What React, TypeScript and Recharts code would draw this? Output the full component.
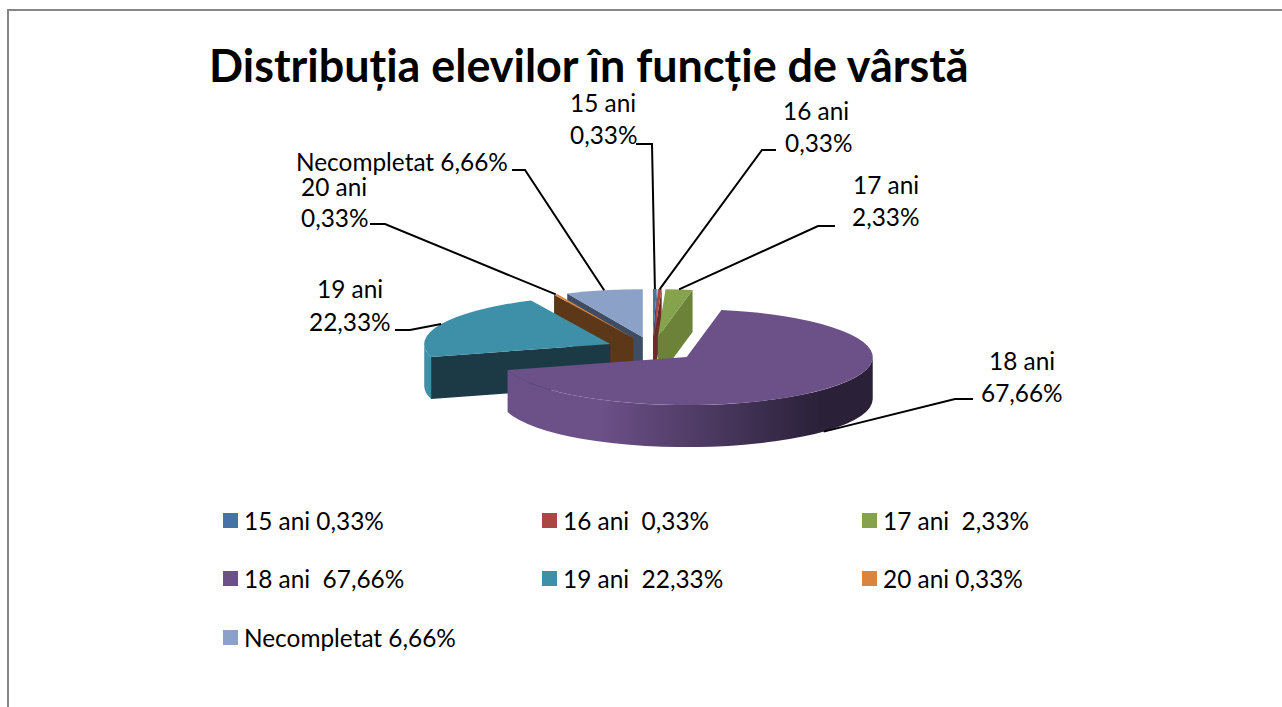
import * as React from 'react';
import { Legend, Pie, PieChart } from 'recharts';

const CATEGORIES = ['15 ani', '16 ani', '17 ani', '18 ani', '19 ani', '20 ani', 'Necompletat'];
const VALUES = [0.33, 0.33, 2.33, 67.66, 22.33, 0.33, 6.66];
const LEGEND_LABELS = [
  '15 ani 0,33%',
  '16 ani  0,33%',
  '17 ani  2,33%',
  '18 ani  67,66%',
  '19 ani  22,33%',
  '20 ani 0,33%',
  'Necompletat 6,66%',
];
const TOP_COLORS = ['#4572a7', '#aa4643', '#85a24c', '#6c5088', '#3e90a8', '#db843d', '#8ba1c7'];
const SIDE_COLORS = ['#2a4565', '#6b2b29', '#6c8238', '#2a2139', '#1b3a46', '#5c3718', '#3e4d63'];

// back to front, the big slice has to sit on top of the others
const DRAW_ORDER = [6, 5, 4, 0, 1, 2, 3];

const CHART_WIDTH = 1282;
const CHART_HEIGHT = 707;
const PIE_CX = 652.5;
const PIE_CY = 349;
const PIE_RX = 186;
const TILT = 0.258;
const DEPTH = 42;
const EXPLODE = 46.5;
const FONT = 'Lato, sans-serif';
const LABEL_SIZE = 24.4;

// text anchors for the data labels, then the elbow of each leader line
const LABEL_LAYOUT = [
  { lines: [[570, 102], [570, 134]], elbow: [[636, 144], [652, 144]] },
  { lines: [[783, 110], [785, 142]], elbow: [[776, 150], [762, 150]] },
  { lines: [[853, 184], [852, 216]], elbow: [[835, 226], [818, 226]] },
  { lines: [[989, 360], [981, 392]], elbow: [[973, 399], [955, 399]] },
  { lines: [[317, 288], [309, 321]], elbow: [[395, 330], [410, 330]] },
  { lines: [[301, 186], [301, 217]], elbow: [[370, 224], [385, 224]] },
  { lines: [[296, 161]], elbow: [[512, 170], [525, 170]] },
];

const LEGEND_COLUMNS = [223, 542, 862];
const LEGEND_ROWS = [513, 571, 630];

const pieData = CATEGORIES.map((name, i) => ({
  name: LEGEND_LABELS[i],
  age: name,
  value: VALUES[i],
  fill: TOP_COLORS[i],
}));

const percentText = (v: number) => v.toFixed(2).replace('.', ',') + '%';
const toRad = (deg: number) => (deg * Math.PI) / 180;

// point on the squashed ellipse, clock = degrees clockwise from 12 o'clock
const onEllipse = (ox: number, oy: number, clock: number, r = PIE_RX) => [
  ox + r * Math.sin(toRad(clock)),
  oy - r * TILT * Math.cos(toRad(clock)),
];

const explodedApex = (clock: number) => onEllipse(PIE_CX, PIE_CY, clock, EXPLODE);

const arcTo = (p: number[], large: boolean, sweep: boolean) =>
  `A ${PIE_RX} ${PIE_RX * TILT} 0 ${large ? 1 : 0} ${sweep ? 1 : 0} ${p[0]} ${p[1]}`;

const SliceShape = (props: any, index: number, layer: number) => {
  if (index !== layer) return <g />;
  const from = 90 - props.startAngle;
  const to = 90 - props.endAngle;
  const [ax, ay] = explodedApex(90 - props.midAngle);
  const p0 = onEllipse(ax, ay, from);
  const p1 = onEllipse(ax, ay, to);
  const top = `M ${ax} ${ay} L ${p0[0]} ${p0[1]} ${arcTo(p1, to - from > 180, true)} Z`;

  const side = SIDE_COLORS[index];
  const gradId = `rim-${index}`;
  const cut = (p: number[]) =>
    `M ${ax} ${ay} L ${p[0]} ${p[1]} L ${p[0]} ${p[1] + DEPTH} L ${ax} ${ay + DEPTH} Z`;

  const rimFrom = Math.max(from, 90);
  const rimTo = Math.min(to, 270);
  let rim = '';
  if (rimTo > rimFrom) {
    const a = onEllipse(ax, ay, rimFrom);
    const b = onEllipse(ax, ay, rimTo);
    const big = rimTo - rimFrom > 180;
    rim = `M ${a[0]} ${a[1]} ${arcTo(b, big, true)} L ${b[0]} ${b[1] + DEPTH} ${arcTo(
      [a[0], a[1] + DEPTH],
      big,
      false,
    )} Z`;
  }

  return (
    <g>
      <defs>
        <linearGradient
          id={gradId}
          gradientUnits="userSpaceOnUse"
          x1={ax - PIE_RX}
          x2={ax + PIE_RX}
          y1={0}
          y2={0}
        >
          <stop offset="27%" stopColor={props.fill} />
          <stop offset="86%" stopColor={side} />
        </linearGradient>
      </defs>
      {Math.sin(toRad(from)) < 0 && <path d={cut(p0)} fill={side} />}
      {Math.sin(toRad(to)) > 0 && <path d={cut(p1)} fill={side} />}
      {rim && <path d={rim} fill={`url(#${gradId})`} />}
      <path d={top} fill={props.fill} />
    </g>
  );
};

const renderLeader = (props: any) => {
  const clock = 90 - props.midAngle;
  const [ax, ay] = explodedApex(clock);
  const tip = onEllipse(ax, ay, clock);
  const tipY = Math.cos(toRad(clock)) < 0 ? tip[1] + DEPTH : tip[1];
  const [a, b] = LABEL_LAYOUT[props.index].elbow;
  return (
    <polyline
      key={props.index}
      points={`${a[0]},${a[1]} ${b[0]},${b[1]} ${tip[0]},${tipY}`}
      fill="none"
      stroke="#000"
      strokeWidth={2}
    />
  );
};

const renderLabel = (props: any) => {
  const { lines } = LABEL_LAYOUT[props.index];
  const age = CATEGORIES[props.index];
  const pct = percentText(VALUES[props.index]);
  const texts = lines.length === 1 ? [`${age} ${pct}`] : [age, pct];
  return (
    <g key={props.index}>
      {texts.map((t, i) => (
        <text
          key={t}
          x={lines[i][0]}
          y={lines[i][1]}
          dominantBaseline="central"
          fontFamily={FONT}
          fontSize={LABEL_SIZE}
          fill="#000"
        >
          {t}
        </text>
      ))}
    </g>
  );
};

const renderLegend = ({ payload }: any) => {
  const items = (payload || []).filter((p: any) => p.type !== 'none');
  return (
    <div style={{ position: 'relative', width: CHART_WIDTH, height: CHART_HEIGHT }}>
      {items.map((item: any, i: number) => (
        <div
          key={item.value}
          style={{
            position: 'absolute',
            left: LEGEND_COLUMNS[i % 3],
            top: LEGEND_ROWS[Math.floor(i / 3)],
            display: 'flex',
            alignItems: 'center',
            height: 15,
            whiteSpace: 'pre',
            fontFamily: FONT,
            fontSize: LABEL_SIZE,
            color: '#000',
          }}
        >
          <span
            style={{ width: 15, height: 15, background: item.color, marginRight: 6, flex: 'none' }}
          />
          {item.value}
        </div>
      ))}
    </div>
  );
};

export default function App() {
  return (
    <div style={{ position: 'absolute', left: 0, top: 0, width: CHART_WIDTH, height: CHART_HEIGHT, overflow: 'hidden' }}>
      <div
        style={{
          position: 'absolute',
          left: 7,
          top: 9,
          right: 0,
          bottom: 0,
          borderTop: '2px solid #868686',
          borderLeft: '2px solid #868686',
        }}
      />
      <PieChart
        width={CHART_WIDTH}
        height={CHART_HEIGHT}
        margin={{ top: 0, right: 0, bottom: 0, left: 0 }}
        style={{ position: 'absolute', left: 0, top: 0 }}
      >
        <text x={209} y={82} fontFamily={FONT} fontWeight={700} fontSize={44.9} fill="#000">
          Distribuția elevilor în funcție de vârstă
        </text>
        {DRAW_ORDER.map(layer => (
          <Pie
            key={layer}
            data={pieData}
            dataKey="value"
            nameKey="name"
            cx={PIE_CX}
            cy={PIE_CY}
            outerRadius={PIE_RX}
            startAngle={90}
            endAngle={-270}
            stroke="none"
            legendType={layer === DRAW_ORDER[0] ? 'square' : 'none'}
            isAnimationActive={false}
            shape={(p: any) => SliceShape(p, p.index, layer)}
          />
        ))}
        <Pie
          data={pieData}
          dataKey="value"
          cx={PIE_CX}
          cy={PIE_CY}
          outerRadius={PIE_RX}
          startAngle={90}
          endAngle={-270}
          legendType="none"
          isAnimationActive={false}
          shape={() => <g />}
          label={renderLabel}
          labelLine={renderLeader}
        />
        <Legend
          content={renderLegend}
          wrapperStyle={{ position: 'absolute', left: 0, top: 0, bottom: 'auto', width: CHART_WIDTH }}
        />
      </PieChart>
    </div>
  );
}
